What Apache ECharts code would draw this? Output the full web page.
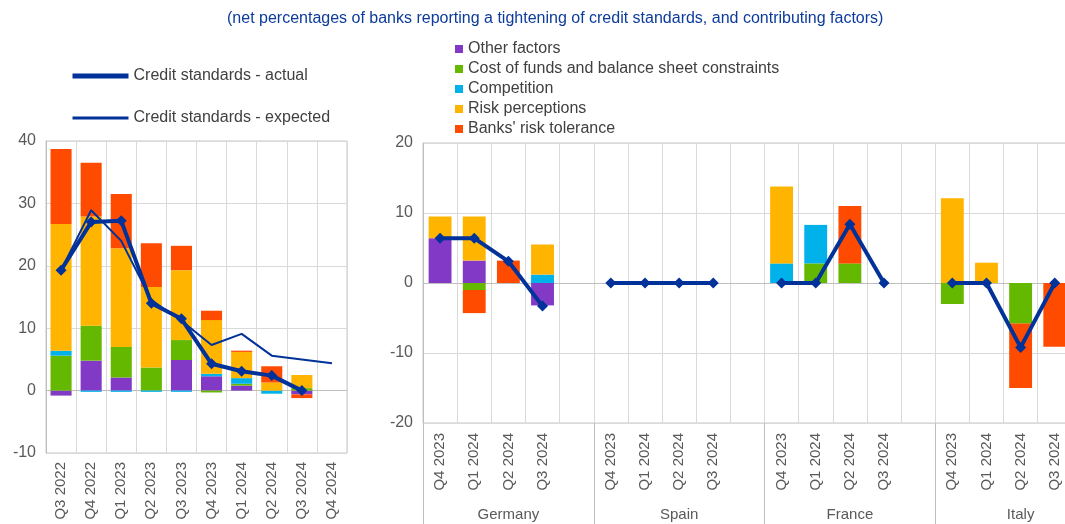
<!DOCTYPE html>
<html>
<head>
<meta charset="utf-8">
<script src="https://cdn.jsdelivr.net/npm/echarts@6/dist/echarts.min.js"></script>
<style>
html,body{margin:0;padding:0;background:#fff;}
#c{width:1065px;height:524px;}
</style>
</head>
<body>
<div id="c"></div>
<script>
// ---------- Left panel: euro area ----------
const leftCats = ['Q3 2022','Q4 2022','Q1 2023','Q2 2023','Q3 2023','Q4 2023','Q1 2024','Q2 2024','Q3 2024','Q4 2024'];
const leftOther       = [-0.8, 4.8, 2.1, 0,    4.9, 2.3, 0.8, 0,    -0.6, null];
const leftCost        = [ 5.6, 5.6, 4.9, 3.7,  3.2,-0.3, 0.3, 0,     0.4, null];
const leftCompetition = [ 0.8,-0.2,-0.2,-0.2, -0.2, 0.4, 0.9,-0.5,   0,   null];
const leftRiskPerc    = [20.3,17.5,15.8,12.9, 11.2, 8.6, 4.2, 1.3,   2.1, null];
const leftRiskTol     = [12.0, 8.6, 8.7, 7.0,  3.9, 1.5, 0.2, 2.6,  -0.6, null];
const leftActual      = [19.3,27.0,27.2,14.0, 11.5, 4.3, 3.1, 2.4,   0.0, null];
const leftExpected    = [19.3,28.9,24.0,14.5, 11.2, 7.3, 9.1, 5.6,   5.0, 4.4];

// ---------- Right panel: countries ----------
const countries = ['Germany','Spain','France','Italy'];
const quarters = ['Q4 2023','Q1 2024','Q2 2024','Q3 2024'];
// values per country, 4 quarters each (Germany, Spain, France, Italy)
const rightOther       = [6.4, 3.2, 0, -3.2,   0,0,0,0,   0, 0, 0, 0,      0, 0, 0, 0];
const rightCost        = [0, -1.0, 0, 0,       0,0,0,0,   0, 2.8, 2.8, 0,  -3.0, 0, -5.8, 0];
const rightCompetition = [0, 0, 0, 1.2,        0,0,0,0,   2.8, 5.5, 0, 0,  0, 0, 0, 0];
const rightRiskPerc    = [3.1, 6.3, 0, 4.3,    0,0,0,0,   11.0, 0, 0, 0,   12.1, 2.9, 0, 0];
const rightRiskTol     = [0, -3.3, 3.2, 0,     0,0,0,0,   0, 0, 8.2, 0,    0, 0, -9.2, -9.1];
const rightActual      = [6.4, 6.4, 3.1, -3.3, 0,0,0,0,   0, 0, 8.4, 0,    0, 0, -9.2, 0];

// build 20-slot arrays (4 quarters + 1 empty slot per country)
function slots(arr){
  const out = [];
  for (let c = 0; c < countries.length; c++){
    for (let q = 0; q < quarters.length; q++) out.push(arr[c*4+q]);
    out.push(null);
  }
  return out;
}
const rightCats = slots(quarters.concat(quarters, quarters, quarters)).map(v => v === null ? '' : v);

const names = ['Other factors','Cost of funds and balance sheet constraints','Competition','Risk perceptions',"Banks' risk tolerance"];
const colors = ['#8139c6','#65b800','#00b1ea','#ffb400','#ff4b00'];
const leftBars = [leftOther, leftCost, leftCompetition, leftRiskPerc, leftRiskTol];
const rightBars = [rightOther, rightCost, rightCompetition, rightRiskPerc, rightRiskTol];
const lineBlue = '#003299';
const txt = '#595959';
const gridCol = '#d9d9d9';
const axisCol = '#bfbfbf';
const FONT = 'Liberation Sans, Arial, sans-serif';

const series = [];
names.forEach((n, i) => {
  series.push({
    name: n, type: 'bar', stack: 'L', xAxisIndex: 0, yAxisIndex: 0,
    data: leftBars[i], barWidth: '70%', itemStyle: { color: colors[i] }
  });
});
names.forEach((n, i) => {
  series.push({
    name: n, type: 'bar', stack: 'R', xAxisIndex: 1, yAxisIndex: 1,
    data: slots(rightBars[i]), barWidth: '67%', itemStyle: { color: colors[i] }
  });
});
series.push({
  name: 'Credit standards - expected', type: 'line', xAxisIndex: 0, yAxisIndex: 0,
  data: leftExpected, symbol: 'none', lineStyle: { color: lineBlue, width: 2 }, itemStyle: { color: lineBlue }, z: 5
});
series.push({
  name: 'Credit standards - actual', type: 'line', xAxisIndex: 0, yAxisIndex: 0,
  data: leftActual, symbol: 'diamond', symbolSize: 11, lineStyle: { color: lineBlue, width: 4 }, itemStyle: { color: lineBlue }, z: 6
});
series.push({
  name: 'Credit standards - actual', type: 'line', xAxisIndex: 1, yAxisIndex: 1,
  data: slots(rightActual), symbol: 'diamond', symbolSize: 11, connectNulls: false,
  lineStyle: { color: lineBlue, width: 4 }, itemStyle: { color: lineBlue }, z: 6
});

const chart = echarts.init(document.getElementById('c'));
chart.setOption({
  animation: false,
  textStyle: { fontFamily: FONT },
  title: {
    text: '(net percentages of banks reporting a tightening of credit standards, and contributing factors)',
    left: 222, top: 6,
    textStyle: { color: '#0c3b9c', fontSize: 16, fontWeight: 'normal', fontFamily: FONT }
  },
  legend: [
    {
      data: [
        { name: 'Credit standards - actual', lineStyle: { width: 5 }, itemStyle: { opacity: 0 } },
        { name: 'Credit standards - expected', lineStyle: { width: 3 }, itemStyle: { opacity: 0 } }
      ],
      orient: 'vertical', left: 65, top: 63, itemWidth: 56, itemHeight: 10, itemGap: 26,
      textStyle: { color: '#404040', fontSize: 16, fontFamily: FONT },
      selectedMode: false
    },
    {
      data: names,
      orient: 'vertical', left: 450, top: 36, itemWidth: 8, itemHeight: 8, itemGap: 4, icon: 'rect',
      textStyle: { color: '#404040', fontSize: 16, fontFamily: FONT },
      selectedMode: false
    }
  ],
  grid: [
    { left: 46, top: 141, width: 301, height: 312, show: true, borderColor: '#c8c8c8', borderWidth: 1, outerBoundsMode: 'none' },
    { left: 423, top: 143, width: 683, height: 280, show: true, borderColor: '#c8c8c8', borderWidth: 1, outerBoundsMode: 'none' }
  ],
  xAxis: [
    {
      type: 'category', gridIndex: 0, data: leftCats,
      axisLine: { lineStyle: { color: axisCol } }, axisTick: { show: false },
      axisLabel: { rotate: 90, color: txt, fontSize: 15, margin: 9, interval: 0 },
      splitLine: { show: true, interval: 0, lineStyle: { color: gridCol } }
    },
    {
      type: 'category', gridIndex: 1, data: rightCats,
      axisLine: { lineStyle: { color: axisCol } }, axisTick: { show: false },
      axisLabel: { rotate: 90, color: txt, fontSize: 15, margin: 10, interval: 0 },
      splitLine: { show: true, interval: 0, lineStyle: { color: gridCol } }
    },
    {
      type: 'category', gridIndex: 1, data: countries, position: 'bottom', offset: 0,
      axisLine: { show: false },
      axisTick: { show: true, inside: false, length: 101, interval: 0, lineStyle: { color: axisCol } },
      axisLabel: { color: txt, fontSize: 15, margin: 84, interval: 0 },
      splitLine: { show: false }
    }
  ],
  yAxis: [
    {
      type: 'value', gridIndex: 0, min: -10, max: 40, interval: 10,
      axisLine: { show: true, lineStyle: { color: axisCol } },
      axisLabel: { color: txt, fontSize: 16, margin: 10 },
      splitLine: { lineStyle: { color: gridCol } }
    },
    {
      type: 'value', gridIndex: 1, min: -20, max: 20, interval: 10,
      axisLine: { show: true, lineStyle: { color: axisCol } },
      axisLabel: { color: txt, fontSize: 16, margin: 10 },
      splitLine: { lineStyle: { color: gridCol } }
    }
  ],
  series: series
});
</script>
</body>
</html>
